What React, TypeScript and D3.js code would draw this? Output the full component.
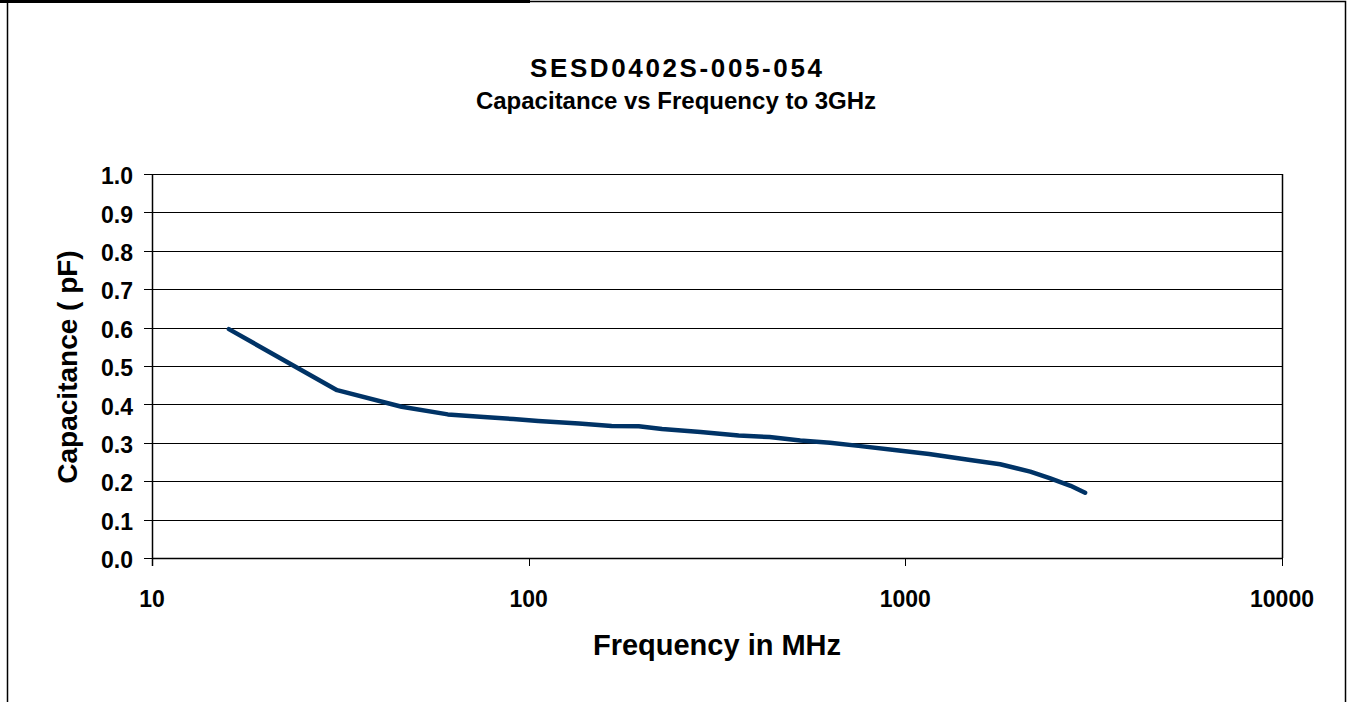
import { useEffect, useRef } from "react";
import * as d3 from "d3";

// sweep points (MHz, pF)
const freqs = [16, 31, 46, 61, 76, 91, 106, 136, 166, 196, 226, 286, 361, 436, 526, 631, 751, 961, 1156, 1486, 1786, 2146, 2416, 2746, 3001];
const caps = [0.596, 0.437, 0.394, 0.374, 0.367, 0.362, 0.357, 0.350, 0.344, 0.343, 0.336, 0.328, 0.319, 0.315, 0.306, 0.300, 0.292, 0.280, 0.271, 0.255, 0.244, 0.225, 0.208, 0.188, 0.170];

const xTicks = [10, 100, 1000, 10000];
const yTicks = [0, 0.1, 0.2, 0.3, 0.4, 0.5, 0.6, 0.7, 0.8, 0.9, 1.0];

const titleLines = ["SESD0402S-005-054", "Capacitance vs Frequency to 3GHz"];

export default function App() {
  const ref = useRef<SVGSVGElement>(null);
  const W = 1348;
  const H = 702;
  const plot = { left: 152, right: 1282, top: 174, bottom: 558 };

  useEffect(() => {
    if (!ref.current) return;
    const svg = d3.select(ref.current);
    svg.selectAll("*").remove();
    const font = "'Liberation Sans', Arial, sans-serif";

    const x = d3.scaleLog().domain([10, 10000]).range([plot.left, plot.right]);
    const y = d3.scaleLinear().domain([0, 1]).range([plot.bottom, plot.top]);

    // outer frame
    svg.append("rect").attr("x", 7.5).attr("y", 1.5).attr("width", 1338).attr("height", H + 10)
      .attr("fill", "#fff").attr("stroke", "#000").attr("stroke-width", 1.5);
    svg.append("rect").attr("x", 0).attr("y", 0).attr("width", 530).attr("height", 3).attr("fill", "#000");

    // titles
    svg.append("text").attr("x", 676).attr("y", 77).attr("text-anchor", "middle")
      .attr("textLength", 292).attr("lengthAdjust", "spacing")
      .style("font-family", font).style("font-weight", "bold").style("font-size", "26px")
      .text(titleLines[0]);
    svg.append("text").attr("x", 676).attr("y", 109).attr("text-anchor", "middle")
      .style("font-family", font).style("font-weight", "bold").style("font-size", "24px")
      .text(titleLines[1]);

    // grid lines
    svg.selectAll(".grid").data(yTicks).enter().append("line")
      .attr("x1", plot.left - 8).attr("x2", plot.right)
      .attr("y1", d => Math.round(y(d)) + 0.5).attr("y2", d => Math.round(y(d)) + 0.5)
      .attr("stroke", "#000").attr("stroke-width", 1);

    // plot border (right side + left axis)
    svg.append("line").attr("x1", plot.right + 0.5).attr("x2", plot.right + 0.5)
      .attr("y1", plot.top).attr("y2", plot.bottom).attr("stroke", "#000").attr("stroke-width", 1.5);
    svg.append("line").attr("x1", plot.left + 0.5).attr("x2", plot.left + 0.5)
      .attr("y1", plot.top).attr("y2", plot.bottom + 8).attr("stroke", "#000").attr("stroke-width", 1.5);
    svg.append("line").attr("x1", plot.left).attr("x2", plot.right)
      .attr("y1", plot.bottom + 0.5).attr("y2", plot.bottom + 0.5).attr("stroke", "#000").attr("stroke-width", 1.5);

    // x ticks
    svg.selectAll(".xt").data(xTicks).enter().append("line")
      .attr("x1", d => Math.round(x(d)) + 0.5).attr("x2", d => Math.round(x(d)) + 0.5)
      .attr("y1", plot.bottom).attr("y2", plot.bottom + 8)
      .attr("stroke", "#000").attr("stroke-width", 1);

    svg.selectAll(".xl").data(xTicks).enter().append("text")
      .attr("x", d => x(d)).attr("y", 607)
      .attr("text-anchor", "middle")
      .style("font-family", font).style("font-weight", "bold").style("font-size", "23px")
      .text(d => String(d));

    svg.selectAll(".yl").data(yTicks).enter().append("text")
      .attr("x", 133).attr("y", d => y(d) + 2).attr("dy", "0.36em")
      .attr("text-anchor", "end")
      .style("font-family", font).style("font-weight", "bold").style("font-size", "23px")
      .text(d => d.toFixed(1));

    // axis titles
    svg.append("text").attr("x", 717).attr("y", 655).attr("text-anchor", "middle")
      .style("font-family", font).style("font-weight", "bold").style("font-size", "29px")
      .text("Frequency in MHz");
    svg.append("text").attr("transform", "translate(77,367) rotate(-90)").attr("text-anchor", "middle")
      .style("font-family", font).style("font-weight", "bold").style("font-size", "28px")
      .text("Capacitance ( pF)");

    // curve
    const pts = freqs.map((f, i) => [f, caps[i]] as [number, number]);
    const line = d3.line<[number, number]>().x(d => x(d[0])).y(d => y(d[1]));
    svg.append("path").datum(pts).attr("d", line)
      .attr("fill", "none").attr("stroke", "#003366").attr("stroke-width", 4.5)
      .attr("stroke-linejoin", "round").attr("stroke-linecap", "round");
  }, []);

  return (
    <svg ref={ref} width={W} height={H} viewBox={`0 0 ${W} ${H}`}
      style={{ position: "absolute", left: 0, top: 0, background: "#fff" }} />
  );
}
